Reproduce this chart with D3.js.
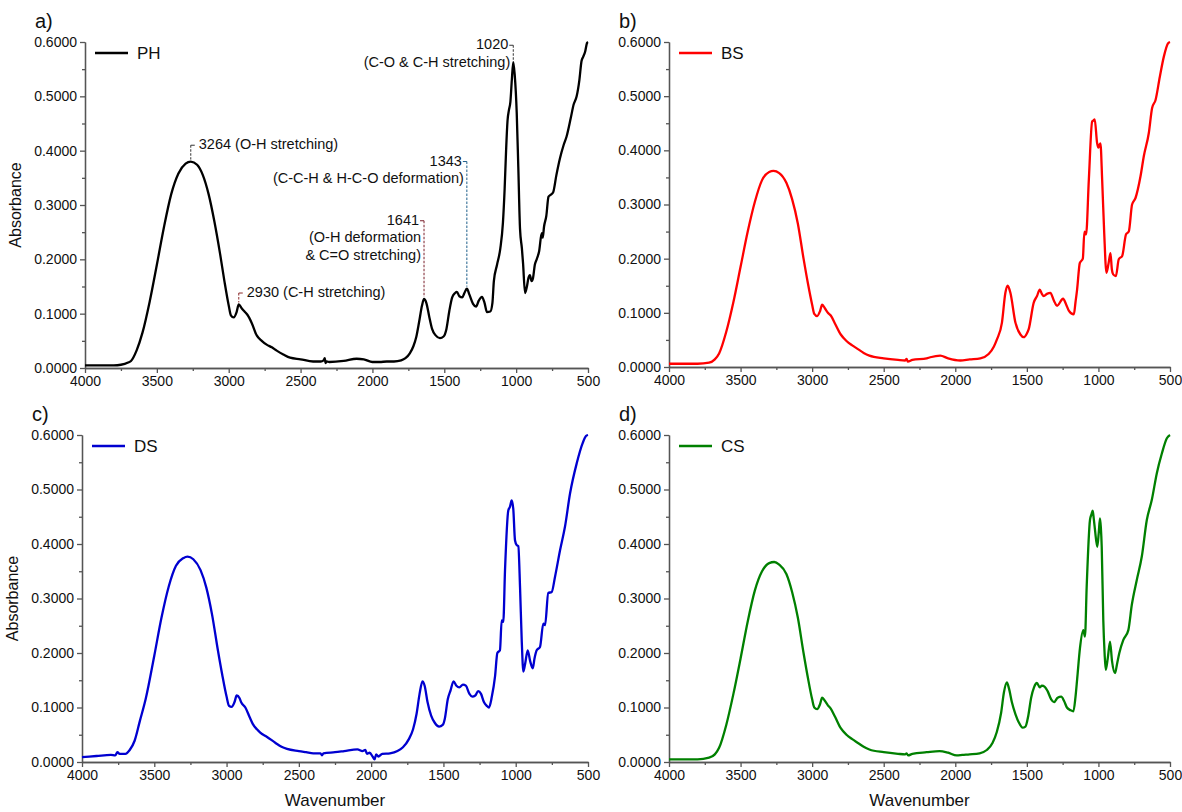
<!DOCTYPE html>
<html>
<head>
<meta charset="utf-8">
<script src="https://cdn.jsdelivr.net/npm/d3@7"></script>
<style>
  body { margin: 0; background: #fff; }
  svg text { font-family: Arial, "Liberation Sans", sans-serif; fill: #111; }
</style>
</head>
<body>
<div id="chart"></div>
<script>
// Axis Ticks
const xTicks = [4000, 3500, 3000, 2500, 2000, 1500, 1000, 500];
const xMinorTicks = [3750, 3250, 2750, 2250, 1750, 1250, 750];
const yTicks = [0, 0.1, 0.2, 0.3, 0.4, 0.5, 0.6];
const yMinorTicks = [0.05, 0.15, 0.25, 0.35, 0.45, 0.55];

// PH Spectrum
const phWave = [4000, 3900, 3800, 3750, 3700, 3680, 3640, 3600, 3550, 3500, 3450, 3400, 3350, 3300, 3264, 3220, 3180, 3140, 3100, 3060, 3030, 3000, 2985, 2965, 2945, 2930, 2910, 2890, 2870, 2840, 2805, 2770, 2736, 2700, 2666, 2620, 2573, 2500, 2413, 2360, 2340, 2332, 2326, 2318, 2300, 2200, 2110, 2060, 2000, 1950, 1900, 1850, 1800, 1770, 1740, 1715, 1695, 1675, 1655, 1641, 1625, 1605, 1585, 1560, 1530, 1505, 1485, 1465, 1445, 1425, 1412, 1395, 1375, 1360, 1343, 1325, 1300, 1279, 1260, 1238, 1220, 1203, 1180, 1165, 1155, 1133, 1110, 1092, 1080, 1070, 1060, 1050, 1040, 1030, 1020, 1010, 996, 985, 973, 960, 952, 938, 925, 915, 904, 893, 883, 870, 857, 840, 822, 815, 806, 790, 775, 764, 743, 720, 695, 670, 649, 620, 600, 579, 560, 545, 533, 520, 507, 500];
const phAbs = [0.005, 0.005, 0.005, 0.006, 0.010, 0.013, 0.033, 0.065, 0.122, 0.190, 0.260, 0.320, 0.358, 0.376, 0.380, 0.374, 0.355, 0.320, 0.270, 0.210, 0.160, 0.115, 0.097, 0.093, 0.103, 0.117, 0.110, 0.104, 0.098, 0.083, 0.060, 0.050, 0.043, 0.038, 0.032, 0.025, 0.019, 0.016, 0.012, 0.012, 0.014, 0.018, 0.009, 0.012, 0.011, 0.013, 0.017, 0.016, 0.011, 0.011, 0.012, 0.012, 0.014, 0.018, 0.027, 0.040, 0.057, 0.085, 0.115, 0.127, 0.120, 0.095, 0.072, 0.060, 0.055, 0.058, 0.072, 0.105, 0.130, 0.138, 0.140, 0.132, 0.130, 0.138, 0.146, 0.135, 0.118, 0.113, 0.124, 0.131, 0.120, 0.103, 0.104, 0.120, 0.160, 0.190, 0.220, 0.267, 0.330, 0.400, 0.455, 0.475, 0.490, 0.530, 0.563, 0.540, 0.470, 0.370, 0.256, 0.220, 0.193, 0.138, 0.150, 0.165, 0.171, 0.160, 0.165, 0.190, 0.200, 0.215, 0.248, 0.240, 0.260, 0.280, 0.315, 0.318, 0.323, 0.355, 0.386, 0.410, 0.426, 0.460, 0.485, 0.500, 0.530, 0.565, 0.573, 0.582, 0.598, 0.600];

// BS Spectrum
const bsWave = [4000, 3900, 3800, 3720, 3680, 3650, 3600, 3550, 3500, 3450, 3400, 3350, 3300, 3270, 3230, 3180, 3140, 3100, 3060, 3030, 3000, 2985, 2965, 2945, 2930, 2910, 2890, 2870, 2840, 2800, 2760, 2720, 2680, 2640, 2600, 2500, 2400, 2350, 2340, 2332, 2300, 2200, 2175, 2105, 2050, 1965, 1900, 1825, 1767, 1730, 1709, 1674, 1650, 1634, 1615, 1580, 1545, 1522, 1500, 1487, 1452, 1429, 1410, 1395, 1382, 1360, 1336, 1310, 1289, 1247, 1225, 1207, 1172, 1160, 1149, 1130, 1109, 1098, 1086, 1067, 1044, 1035, 1026, 1009, 1000, 993, 986, 974, 960, 944, 930, 916, 906, 897, 878, 858, 834, 807, 788, 765, 741, 706, 683, 648, 625, 601, 571, 543, 515, 500];
const bsAbs = [0.006, 0.006, 0.006, 0.008, 0.014, 0.025, 0.065, 0.120, 0.185, 0.250, 0.305, 0.345, 0.360, 0.362, 0.358, 0.340, 0.310, 0.265, 0.200, 0.155, 0.115, 0.098, 0.094, 0.103, 0.115, 0.108, 0.100, 0.095, 0.080, 0.060, 0.048, 0.040, 0.033, 0.026, 0.021, 0.016, 0.013, 0.012, 0.015, 0.010, 0.013, 0.016, 0.018, 0.021, 0.016, 0.012, 0.014, 0.016, 0.024, 0.038, 0.051, 0.082, 0.137, 0.150, 0.137, 0.082, 0.060, 0.055, 0.062, 0.070, 0.119, 0.131, 0.143, 0.135, 0.131, 0.135, 0.137, 0.122, 0.113, 0.126, 0.115, 0.104, 0.097, 0.120, 0.143, 0.192, 0.200, 0.250, 0.245, 0.346, 0.453, 0.455, 0.457, 0.413, 0.405, 0.410, 0.413, 0.346, 0.250, 0.174, 0.190, 0.210, 0.180, 0.171, 0.168, 0.199, 0.205, 0.245, 0.250, 0.300, 0.312, 0.352, 0.389, 0.432, 0.478, 0.493, 0.536, 0.573, 0.597, 0.600];

// DS Spectrum
const dsWave = [4000, 3900, 3800, 3770, 3755, 3740, 3700, 3670, 3636, 3600, 3560, 3500, 3450, 3400, 3350, 3300, 3270, 3230, 3180, 3140, 3100, 3060, 3030, 3000, 2983, 2965, 2945, 2930, 2910, 2898, 2870, 2840, 2819, 2790, 2767, 2720, 2661, 2620, 2582, 2500, 2450, 2400, 2350, 2340, 2330, 2250, 2187, 2095, 2060, 2040, 2029, 2010, 1990, 1976, 1965, 1950, 1923, 1870, 1818, 1780, 1739, 1710, 1686, 1665, 1645, 1630, 1610, 1585, 1560, 1530, 1505, 1490, 1470, 1450, 1430, 1410, 1390, 1365, 1345, 1320, 1300, 1280, 1260, 1240, 1220, 1200, 1185, 1165, 1143, 1127, 1109, 1097, 1086, 1074, 1051, 1040, 1028, 1017, 1005, 993, 982, 970, 958, 947, 935, 917, 900, 882, 870, 855, 832, 809, 797, 775, 751, 728, 693, 659, 624, 578, 537, 514, 500];
const dsAbs = [0.009, 0.011, 0.013, 0.012, 0.018, 0.015, 0.015, 0.022, 0.039, 0.075, 0.115, 0.195, 0.265, 0.322, 0.360, 0.374, 0.377, 0.372, 0.352, 0.320, 0.270, 0.205, 0.160, 0.120, 0.103, 0.101, 0.110, 0.122, 0.117, 0.109, 0.100, 0.082, 0.070, 0.060, 0.054, 0.046, 0.035, 0.028, 0.024, 0.020, 0.018, 0.016, 0.016, 0.012, 0.016, 0.018, 0.020, 0.023, 0.020, 0.022, 0.015, 0.017, 0.010, 0.005, 0.014, 0.010, 0.015, 0.016, 0.020, 0.027, 0.042, 0.060, 0.088, 0.125, 0.148, 0.140, 0.110, 0.085, 0.072, 0.065, 0.068, 0.080, 0.115, 0.132, 0.148, 0.140, 0.137, 0.142, 0.140, 0.125, 0.120, 0.122, 0.130, 0.125, 0.110, 0.103, 0.100, 0.120, 0.157, 0.200, 0.205, 0.260, 0.257, 0.352, 0.462, 0.468, 0.480, 0.465, 0.407, 0.398, 0.396, 0.320, 0.220, 0.166, 0.180, 0.205, 0.185, 0.172, 0.190, 0.205, 0.211, 0.254, 0.251, 0.310, 0.312, 0.340, 0.389, 0.432, 0.493, 0.548, 0.585, 0.598, 0.600];

// CS Spectrum
const csWave = [4000, 3900, 3800, 3720, 3680, 3650, 3600, 3550, 3500, 3450, 3400, 3350, 3300, 3265, 3230, 3180, 3140, 3100, 3060, 3030, 3000, 2985, 2965, 2945, 2930, 2910, 2890, 2870, 2840, 2800, 2760, 2720, 2680, 2640, 2600, 2500, 2400, 2350, 2340, 2330, 2300, 2200, 2110, 2050, 1990, 1950, 1900, 1830, 1780, 1740, 1710, 1680, 1660, 1640, 1625, 1605, 1580, 1555, 1530, 1510, 1490, 1470, 1450, 1430, 1410, 1395, 1375, 1355, 1330, 1310, 1285, 1260, 1240, 1220, 1195, 1175, 1160, 1148, 1129, 1106, 1094, 1082, 1059, 1048, 1040, 1032, 1024, 1008, 998, 989, 983, 977, 966, 957, 949, 935, 919, 905, 884, 870, 854, 826, 791, 767, 732, 697, 662, 627, 592, 557, 522, 500];
const csAbs = [0.005, 0.005, 0.005, 0.008, 0.014, 0.026, 0.068, 0.125, 0.190, 0.258, 0.315, 0.350, 0.365, 0.367, 0.362, 0.345, 0.312, 0.265, 0.200, 0.155, 0.115, 0.100, 0.097, 0.106, 0.118, 0.112, 0.104, 0.098, 0.083, 0.062, 0.050, 0.042, 0.035, 0.028, 0.023, 0.018, 0.015, 0.014, 0.016, 0.012, 0.015, 0.018, 0.020, 0.017, 0.012, 0.013, 0.014, 0.016, 0.022, 0.035, 0.055, 0.090, 0.128, 0.146, 0.135, 0.110, 0.088, 0.072, 0.063, 0.065, 0.085, 0.118, 0.137, 0.145, 0.137, 0.140, 0.138, 0.130, 0.115, 0.110, 0.118, 0.120, 0.112, 0.100, 0.095, 0.093, 0.120, 0.154, 0.209, 0.242, 0.230, 0.322, 0.444, 0.455, 0.461, 0.445, 0.426, 0.395, 0.420, 0.447, 0.430, 0.395, 0.260, 0.200, 0.169, 0.190, 0.221, 0.185, 0.163, 0.180, 0.200, 0.224, 0.242, 0.288, 0.334, 0.377, 0.444, 0.481, 0.530, 0.566, 0.594, 0.600];

// Peak Annotations For PH
const peakWave = [3264, 2930, 1641, 1343, 1020];
const peakTop = [0.410, 0.138, 0.271, 0.380, 0.594];
const peakSide = ["right", "right", "left", "left", "left"];
const peakColor = ["#333", "#8b2a2a", "#7a1f2b", "#1f5f8b", "#333"];
const peakLabels = [
  ["3264 (O-H stretching)"],
  ["2930 (C-H stretching)"],
  ["1641", "(O-H deformation", "& C=O stretching)"],
  ["1343", "(C-C-H & H-C-O deformation)"],
  ["1020", "(C-O & C-H stretching)"]
];

// Rendering SVG Element On DOM
const svg = d3.select("#chart").append("svg").attr("width", 1182).attr("height", 812);

function drawPanel(p) {
  const x = d3.scaleLinear().domain([4000, 500]).range([p.left, p.right]);
  const y = d3.scaleLinear().domain([0, 0.6]).range([p.bottom, p.top]);
  const g = svg.append("g");

  // Minor Ticks
  g.append("g").attr("transform", `translate(0,${p.bottom})`)
    .call(d3.axisBottom(x).tickValues(xMinorTicks).tickSize(3).tickSizeOuter(0).tickFormat(""));
  g.append("g").attr("transform", `translate(${p.left},0)`)
    .call(d3.axisLeft(y).tickValues(yMinorTicks).tickSize(3).tickSizeOuter(0).tickFormat(""));

  // Major Axes
  g.append("g").attr("class", "xaxis").attr("transform", `translate(0,${p.bottom})`)
    .call(d3.axisBottom(x).tickValues(xTicks).tickSize(5).tickSizeOuter(0).tickPadding(3).tickFormat(d3.format("d")));
  g.append("g").attr("class", "yaxis").attr("transform", `translate(${p.left},0)`)
    .call(d3.axisLeft(y).tickValues(yTicks).tickSize(5).tickSizeOuter(0).tickPadding(3).tickFormat(d3.format(".4f")));

  g.selectAll(".domain, .tick line").attr("stroke", "#555").attr("stroke-width", 1.3);
  g.selectAll(".tick text").style("font-size", "14px").attr("fill", "#111");

  // Spectrum Line
  const pts = p.wave.map((w, i) => [w, p.abs[i]]);
  const line = d3.line().x(d => x(d[0])).y(d => y(d[1])).curve(d3.curveMonotoneX);
  g.append("path").datum(pts).attr("d", line)
    .attr("fill", "none").attr("stroke", p.color).attr("stroke-width", 2.3).attr("stroke-linejoin", "round");

  // Legend
  g.append("line").attr("x1", p.left + 10).attr("x2", p.left + 43)
    .attr("y1", p.top + 11).attr("y2", p.top + 11).attr("stroke", p.color).attr("stroke-width", 2.3);
  g.append("text").attr("x", p.left + 52).attr("y", p.top + 17).style("font-size", "17px").text(p.name);

  // Panel Letter
  g.append("text").attr("x", p.left - 50).attr("y", p.top - 14).style("font-size", "20px").text(p.letter);

  if (p.yLabel) {
    g.append("text").attr("transform", `translate(${p.left - 64},${(p.top + p.bottom) / 2}) rotate(-90)`)
      .attr("text-anchor", "middle").style("font-size", "16px").text("Absorbance");
  }
  if (p.xLabel) {
    g.append("text").attr("x", (p.left + p.right) / 2).attr("y", p.bottom + 44)
      .attr("text-anchor", "middle").style("font-size", "17px").text("Wavenumber");
  }

  // Peak Annotations
  if (p.peaks) {
    peakWave.forEach((w, i) => {
      const px = x(w);
      const py = y(p.abs[p.wave.indexOf(w)]);
      const ty = y(peakTop[i]);
      const c = peakColor[i];
      g.append("line").attr("x1", px).attr("x2", px).attr("y1", ty).attr("y2", py - 2)
        .attr("stroke", c).attr("stroke-width", 1).attr("stroke-dasharray", "2.5,1.5");
      const dir = peakSide[i] === "right" ? 1 : -1;
      g.append("line").attr("x1", px).attr("x2", px + dir * 4).attr("y1", ty).attr("y2", ty)
        .attr("stroke", c).attr("stroke-width", 1);
      peakLabels[i].forEach((t, j) => {
        g.append("text")
          .attr("x", dir > 0 ? px + 8 : px - 5 + (j > 0 ? 2 : 0))
          .attr("y", ty + 4 + j * 17.5)
          .attr("text-anchor", dir > 0 ? "start" : "end")
          .style("font-size", "14.5px").text(t);
      });
    });
  }
}

drawPanel({ left: 85, right: 588, top: 42, bottom: 368, wave: phWave, abs: phAbs, color: "#000", name: "PH", letter: "a)", yLabel: true, xLabel: false, peaks: true });
drawPanel({ left: 669, right: 1170, top: 42, bottom: 367, wave: bsWave, abs: bsAbs, color: "#ff0000", name: "BS", letter: "b)", yLabel: false, xLabel: false });
drawPanel({ left: 82, right: 588, top: 435, bottom: 762, wave: dsWave, abs: dsAbs, color: "#0000d0", name: "DS", letter: "c)", yLabel: true, xLabel: true });
drawPanel({ left: 669, right: 1170, top: 435, bottom: 762, wave: csWave, abs: csAbs, color: "#008000", name: "CS", letter: "d)", yLabel: false, xLabel: true });
</script>
</body>
</html>
